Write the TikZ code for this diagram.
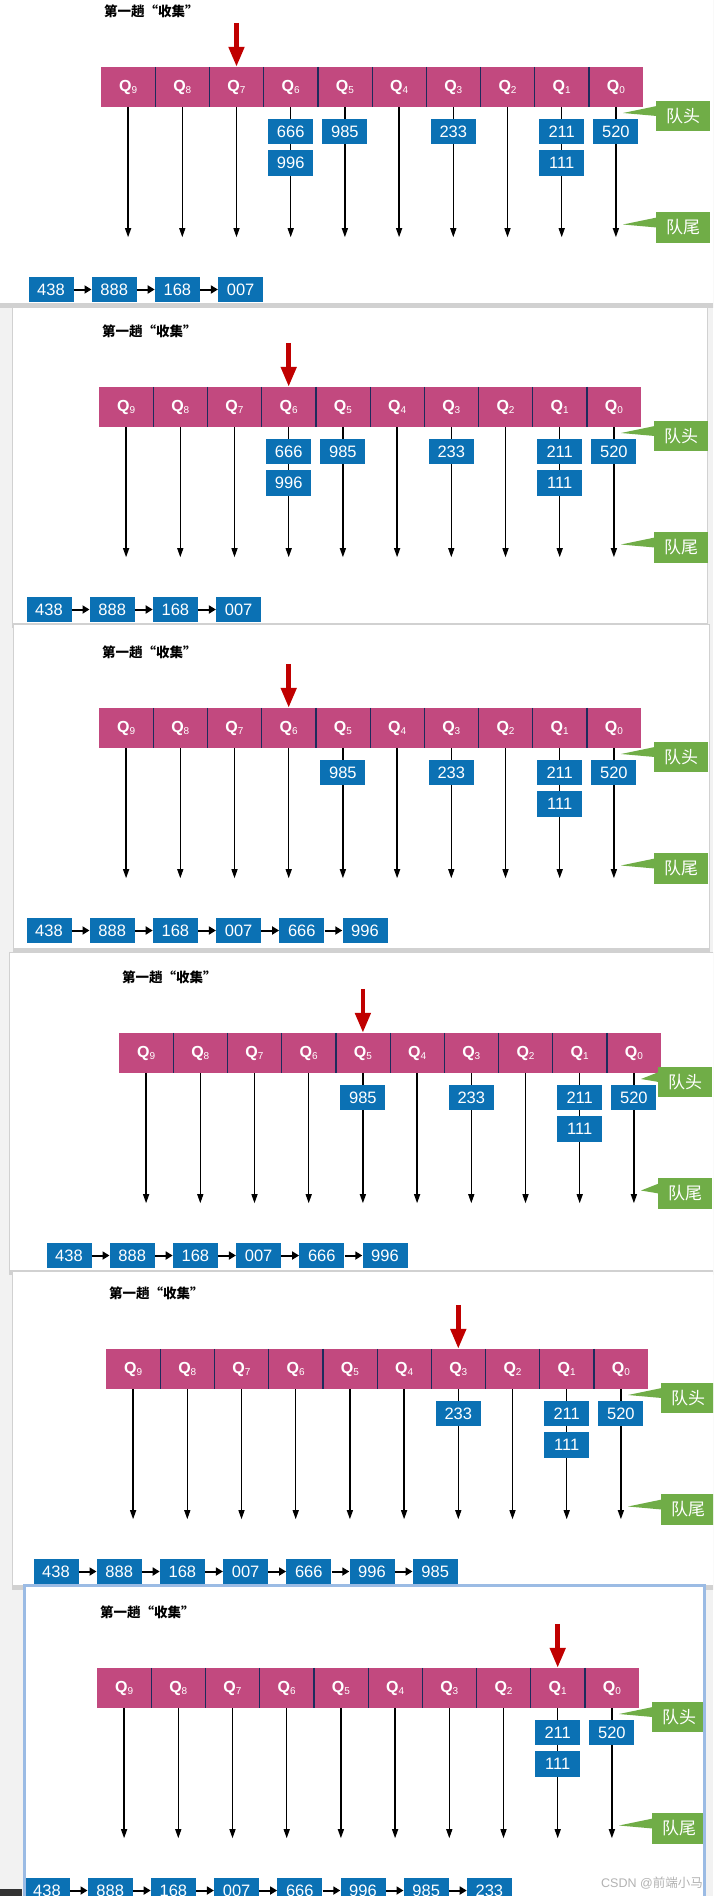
\documentclass[tikz,border=0pt]{standalone}
\usepackage{fontspec}
\setmainfont{Liberation Sans}
\newfontfamily\cjk{Noto Sans CJK SC}
\usepackage{tikz}
\usetikzlibrary{arrows.meta, positioning, calc}
\definecolor{barc}{HTML}{C2497F}
\definecolor{sepc}{HTML}{1D2B5C}
\definecolor{numc}{HTML}{0B71B4}
\definecolor{tagc}{HTML}{70AD47}
\definecolor{ptrc}{HTML}{C00000}
\definecolor{pagec}{HTML}{F2F2F2}
\definecolor{selc}{HTML}{9BBBE4}
% one screenshot frame: top left, bottom right
\newcommand{\shot}[2]{%
  \fill[black!18] ($#1+(-1,-1)$) rectangle ($#2+(1,5)$);
  \fill[white] #1 rectangle #2;
}
% one "collect" step: [tag x], id, bar origin, queue under the pointer,
% queue items (queue/row/value), collected list
\newcommand{\collect}[6][582]{%
  \begin{scope}[shift={#3}]
    \node[ttl, anchor=west] (#2t) at (3,-56) {第一趟“收集”};
    \foreach \q in {9,...,0}
      \node[qcell] (#2q\q) at ({27.1+(9-\q)*54.2},20)
        {\textbf{Q}\raisebox{-2.5pt}{\fontsize{10}{10}\selectfont\q}};
    \foreach \q in {9,...,1}
      \draw[sepc, line width=1.2pt] (#2q\q.north east) -- (#2q\q.south east);
    \foreach \q in {9,...,0} {
      \coordinate (#2e\q) at ($(#2q\q.south)+(0,130)$);
      \draw[qarrow] (#2q\q.south) -- (#2e\q);
    }
    \foreach \q/\r/\v in {#5}
      \node[num] (#2b\q\r) at ($(#2q\q.south)+(0,\r*31.5-7)$) {\v};
    \coordinate (#2p) at ($(#2q#4.north)+(0,-44)$);
    \draw[ptr] (#2p) -- (#2q#4.north);
    \node[tag] (#2h) at (#1,49) {队头};
    \node[tag] (#2r) at (#1,160.5) {队尾};
    \coordinate (#2hp) at (522,46);
    \coordinate (#2rp) at (522,157.5);
    \fill[tagc] ($(#2h.west)+(1,-10)$) -- (#2hp) -- ($(#2h.west)+(1,0)$) -- cycle;
    \fill[tagc] ($(#2r.west)+(1,-10)$) -- (#2rp) -- ($(#2r.west)+(1,0)$) -- cycle;
    \foreach \v [count=\k, remember=\k as \j (initially 0)] in {#6} {
      \node[num] (#2l\k) at ({-50+(\k-1)*63.2},222.5) {\v};
      \ifnum\j>0 \draw[larrow] (#2l\j.east) -- (#2l\k.west); \fi
    }
  \end{scope}
}

\begin{document}
\begin{tikzpicture}[x=1pt, y=-1pt,
    ttl/.style={font=\cjk\bfseries\fontsize{13.5}{14}\selectfont, inner sep=0pt},
    qcell/.style={fill=barc, minimum width=54.2pt, minimum height=40pt,
                  inner sep=0pt, text=white, font=\fontsize{16}{16}\selectfont},
    num/.style={fill=numc, minimum width=45pt, minimum height=25.5pt,
                inner sep=0pt, text=white, font=\fontsize{16.5}{17}\selectfont},
    tag/.style={fill=tagc, minimum width=54pt, minimum height=30.5pt,
                inner sep=0pt, text=white, font=\cjk\fontsize{17}{18}\selectfont},
    qarrow/.style={-{Triangle[width=6pt,length=9pt]}, line width=1.3pt},
    larrow/.style={-{Triangle[width=8pt,length=7pt]}, line width=2pt},
    ptr/.style={ptrc, line width=4.7pt, -{Triangle[width=15pt,length=20pt]}}]
  \useasboundingbox (0,0) rectangle (713,1896);
  \clip (0,0) rectangle (713,1896);
  \fill[pagec] (0,0) rectangle (713,1896);

  \shot{(0,-2)}{(713,303)}
  \collect{a}{(101,67)}{7}{6/1/666,6/2/996,5/1/985,3/1/233,1/1/211,1/2/111,0/1/520}{438,888,168,007}

  \shot{(13,308)}{(707,623)}
  \collect{b}{(99,387)}{6}{6/1/666,6/2/996,5/1/985,3/1/233,1/1/211,1/2/111,0/1/520}{438,888,168,007}

  \shot{(14,625)}{(709,948)}
  \collect{c}{(99,708)}{6}{5/1/985,3/1/233,1/1/211,1/2/111,0/1/520}{438,888,168,007,666,996}

  \shot{(10,953)}{(715,1270)}
  \collect[566]{d}{(119,1033)}{5}{5/1/985,3/1/233,1/1/211,1/2/111,0/1/520}{438,888,168,007,666,996}

  \shot{(13,1272)}{(715,1585)}
  \collect{e}{(106,1349)}{3}{3/1/233,1/1/211,1/2/111,0/1/520}{438,888,168,007,666,996,985}

  \fill[white] (24,1585) rectangle (704,1900);
  \collect{f}{(97,1668)}{1}{1/1/211,1/2/111,0/1/520}{438,888,168,007,666,996,985,233}
  \draw[selc, line width=3pt] (24,1585) rectangle (704,1902);
  \fill[black!80] (0,1889) rectangle (22,1896);
  \node[text=black!30, font=\fontsize{12.5}{13}\selectfont, inner sep=0pt]
    (wm) at (652,1883) {CSDN @{\cjk 前端小马}};
\end{tikzpicture}
\end{document}
